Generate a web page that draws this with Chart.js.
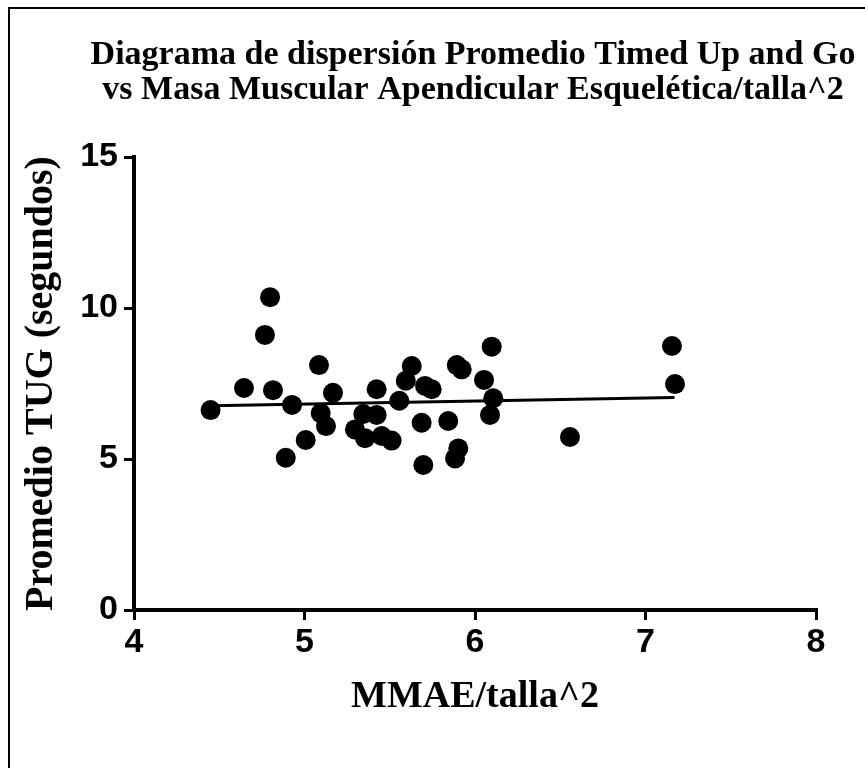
<!DOCTYPE html>
<html>
<head>
<meta charset="utf-8">
<script src="https://cdn.jsdelivr.net/npm/chart.js@4/dist/chart.umd.min.js"></script>
<style>
  html, body { margin: 0; padding: 0; background: #ffffff; }
  #wrap { width: 865px; height: 768px; }
</style>
</head>
<body>
<div id="wrap"><canvas id="c" width="865" height="768"></canvas></div>
<script>
// ---- data ----
const mmaeValues = [4.449, 4.645, 4.815, 4.768, 4.798, 4.927, 4.890, 5.007, 5.085, 5.095,
                    5.126, 5.167, 5.296, 5.345, 5.355, 5.423, 5.423, 5.453, 5.511, 5.556,
                    5.594, 5.629, 5.687, 5.697, 5.707, 5.746, 5.843, 5.883, 5.902, 5.893,
                    5.922, 6.053, 6.098, 6.088, 6.107, 6.557, 7.155, 7.173];
const tugValues  = [6.62, 7.35, 7.28, 9.11, 10.36, 6.79, 5.04, 5.63, 8.11, 6.52,
                    6.09, 7.19, 5.98, 6.49, 5.69, 6.46, 7.31, 5.76, 5.61, 6.93,
                    7.59, 8.08, 6.20, 4.80, 7.42, 7.31, 6.26, 5.02, 5.35, 8.11,
                    7.97, 7.62, 8.72, 6.46, 7.01, 5.73, 8.74, 7.48];
const fitLineX = [4.45, 7.17];
const fitLineY = [6.76, 7.04];
const xTickValues = [4, 5, 6, 7, 8];
const yTickValues = [0, 5, 10, 15];
const titleLines = ["Diagrama de dispersión Promedio Timed Up and Go",
                    "vs Masa Muscular Apendicular Esquelética/talla^2"];
const xTitle = "MMAE/talla^2";
const yTitle = "Promedio TUG (segundos)";

const scatterPoints = mmaeValues.map((x, i) => ({ x: x, y: tugValues[i] }));
const linePoints = fitLineX.map((x, i) => ({ x: x, y: fitLineY[i] }));

const serif = "'Liberation Serif', 'Times New Roman', serif";
const sans = "'Liberation Sans', Arial, sans-serif";

const framePlugin = {
  id: 'frame',
  beforeDraw(chart) {
    const ctx = chart.ctx;
    ctx.save();
    ctx.fillStyle = '#ffffff';
    ctx.fillRect(0, 0, chart.width, chart.height);
    ctx.strokeStyle = '#000000';
    ctx.lineWidth = 2;
    ctx.strokeRect(9, 8, chart.width + 20, chart.height + 20);
    ctx.restore();
  },
  afterDraw(chart) {
    const ctx = chart.ctx;
    ctx.save();
    ctx.fillStyle = '#000000';
    ctx.font = "bold 34px " + serif;
    ctx.textAlign = 'center';
    ctx.textBaseline = 'alphabetic';
    titleLines.forEach((line, i) => {
      ctx.fillText(line, 473, 64 + i * 35);
    });
    ctx.restore();
  }
};

new Chart(document.getElementById('c'), {
  type: 'scatter',
  data: {
    datasets: [
      {
        label: 'TUG',
        data: scatterPoints,
        backgroundColor: '#000000',
        borderColor: '#000000',
        borderWidth: 0,
        pointRadius: 10,
        pointHoverRadius: 10
      },
      {
        label: 'Regresión',
        type: 'line',
        data: linePoints,
        borderColor: '#000000',
        borderWidth: 3,
        pointRadius: 0,
        fill: false,
        tension: 0
      }
    ]
  },
  options: {
    responsive: false,
    animation: false,
    layout: { padding: { left: 10, right: 49, top: 157, bottom: 45 } },
    plugins: {
      legend: { display: false },
      tooltip: { enabled: false },
      title: { display: false }
    },
    scales: {
      x: {
        type: 'linear',
        min: 4, max: 8,
        afterFit(scale) { scale.height = 113; },
        afterBuildTicks(scale) { scale.ticks = xTickValues.map(v => ({ value: v })); },
        ticks: {
          color: '#000000',
          font: { family: sans, size: 34, weight: 'bold' },
          padding: 2,
          maxRotation: 0
        },
        grid: {
          display: true,
          drawOnChartArea: false,
          drawTicks: true,
          tickLength: 10,
          color: '#000000',
          lineWidth: 3
        },
        border: { display: true, color: '#000000', width: 4 },
        title: {
          display: true,
          text: xTitle,
          color: '#000000',
          font: { family: serif, size: 38, weight: 'bold', lineHeight: 1.0 },
          padding: { top: 7, bottom: 7 }
        }
      },
      y: {
        type: 'linear',
        min: 0, max: 15,
        afterFit(scale) { scale.width = 124; },
        afterBuildTicks(scale) { scale.ticks = yTickValues.map(v => ({ value: v })); },
        ticks: {
          color: '#000000',
          font: { family: sans, size: 34, weight: 'bold' },
          padding: 6
        },
        grid: {
          display: true,
          drawOnChartArea: false,
          drawTicks: true,
          tickLength: 10,
          color: '#000000',
          lineWidth: 3
        },
        border: { display: true, color: '#000000', width: 4 },
        title: {
          display: true,
          text: yTitle,
          color: '#000000',
          font: { family: serif, size: 40, weight: 'bold', lineHeight: 1.0 },
          padding: { top: 12, bottom: 12 }
        }
      }
    }
  },
  plugins: [framePlugin]
});
</script>
</body>
</html>
